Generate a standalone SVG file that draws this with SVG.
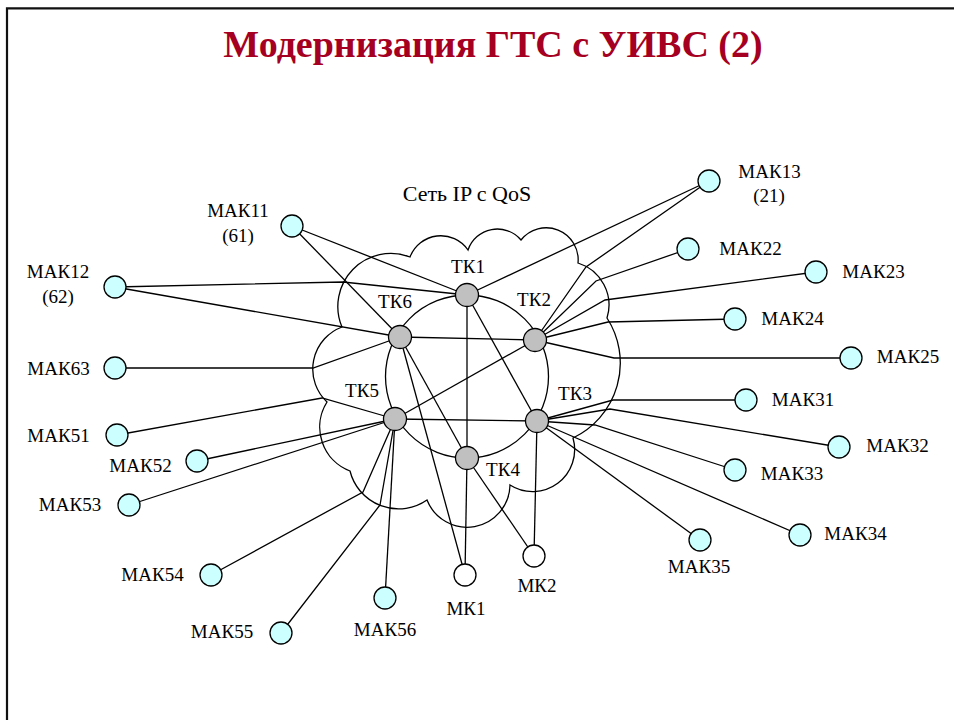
<svg xmlns="http://www.w3.org/2000/svg" width="954" height="720" viewBox="0 0 954 720">
<style>
text{font-family:"Liberation Serif","Times New Roman",serif;font-size:19px;fill:#000;text-anchor:middle}
.title{font-size:38px;font-weight:bold;fill:#a50021}
.net{font-size:22px}
.ln{fill:none;stroke:#000;stroke-width:1.3}
.tk{fill:#c0c0c0;stroke:#000;stroke-width:1.3}
.mak{fill:#ccffff;stroke:#000;stroke-width:1.3}
.mk{fill:#fff;stroke:#000;stroke-width:1.3}
</style>
<rect width="954" height="720" fill="#fff"/>
<path d="M7,720 V8.3 H954" fill="none" stroke="#111" stroke-width="2.2"/>
<text class="title" x="493" y="57">Модернизация ГТС с УИВС (2)</text>
<g id="cloud">
<path class="ln" d="M342,327 A53,53 0 0 1 410,257 A33,33 0 0 1 468,250 A31,31 0 0 1 521,240 A32,32 0 0 1 578,263 A44,44 0 0 1 607,318 A83,83 0 0 1 573,438 A42,42 0 0 1 510,485 A43,43 0 0 1 427,500 A50,50 0 0 1 350,471 A47,47 0 0 1 327,402 A45,45 0 0 1 342,327 Z"/>
<text class="net" x="467" y="201">Сеть IP с QoS</text>
</g>
<g id="connectors" class="ln">
<circle cx="467" cy="376.5" r="81.5"/>
<line x1="400" y1="337" x2="535" y2="340"/>
<line x1="395" y1="419" x2="537" y2="421"/>
<line x1="467" y1="295" x2="467" y2="458"/>
<line x1="467" y1="458" x2="465" y2="575"/>
<line x1="467" y1="295" x2="537" y2="421"/>
<line x1="535" y1="340" x2="395" y2="419"/>
<line x1="400" y1="337" x2="467" y2="458"/>
<line x1="400" y1="337" x2="465" y2="575"/>
<line x1="467" y1="458" x2="534" y2="556"/>
<line x1="537" y1="421" x2="534" y2="556"/>
<line x1="292" y1="226" x2="467" y2="295"/>
<line x1="292" y1="226" x2="400" y2="337"/>
<polyline points="115,287 343,282 467,295"/>
<line x1="115" y1="287" x2="400" y2="337"/>
<polyline points="115,368 313,368 400,337"/>
<line x1="467" y1="295" x2="709" y2="181"/>
<polyline points="535,340 586,267 709,181"/>
<polyline points="535,340 596,281 688,249"/>
<polyline points="535,340 605,300 816,272"/>
<polyline points="535,340 608,322 735,319"/>
<polyline points="535,340 614,358 851,358"/>
<polyline points="537,421 613,400 746,400"/>
<polyline points="537,421 610,409 839,447"/>
<polyline points="537,421 595,425 735,470"/>
<line x1="537" y1="421" x2="800" y2="535"/>
<line x1="537" y1="421" x2="700" y2="540"/>
<polyline points="117,435 322,398 395,419"/>
<line x1="197" y1="461" x2="395" y2="419"/>
<line x1="129" y1="505" x2="395" y2="419"/>
<polyline points="211,575 363,492 395,419"/>
<polyline points="281,633 380,505 395,419"/>
<line x1="385" y1="598" x2="395" y2="419"/>
</g>
<g id="TK1"><circle class="tk" cx="467" cy="295" r="11.5"/><text x="468" y="273">ТК1</text></g>
<g id="TK2"><circle class="tk" cx="535" cy="340" r="11.5"/><text x="534" y="306">ТК2</text></g>
<g id="TK3"><circle class="tk" cx="537" cy="421" r="11.5"/><text x="575" y="400">ТК3</text></g>
<g id="TK4"><circle class="tk" cx="467" cy="458" r="11.5"/><text x="503" y="476">ТК4</text></g>
<g id="TK5"><circle class="tk" cx="395" cy="419" r="11.5"/><text x="362" y="397">ТК5</text></g>
<g id="TK6"><circle class="tk" cx="400" cy="337" r="11.5"/><text x="395" y="308">ТК6</text></g>
<g id="MK1"><circle class="mk" cx="465" cy="575" r="11"/><text x="466" y="615">МК1</text></g>
<g id="MK2"><circle class="mk" cx="534" cy="556" r="11"/><text x="537" y="592">МК2</text></g>
<g id="MAK11"><circle class="mak" cx="292" cy="226" r="11"/><text x="238" y="217">МАК11</text><text x="238" y="242">(61)</text></g>
<g id="MAK12"><circle class="mak" cx="115" cy="287" r="11"/><text x="58" y="278">МАК12</text><text x="58" y="303">(62)</text></g>
<g id="MAK13"><circle class="mak" cx="709" cy="181" r="11"/><text x="769.5" y="178">МАК13</text><text x="769" y="202">(21)</text></g>
<g id="MAK63"><circle class="mak" cx="115" cy="368" r="11"/><text x="58.5" y="375">МАК63</text></g>
<g id="MAK51"><circle class="mak" cx="117" cy="435" r="11"/><text x="58.5" y="442">МАК51</text></g>
<g id="MAK52"><circle class="mak" cx="197" cy="461" r="11"/><text x="140.5" y="472">МАК52</text></g>
<g id="MAK53"><circle class="mak" cx="129" cy="505" r="11"/><text x="70" y="511">МАК53</text></g>
<g id="MAK54"><circle class="mak" cx="211" cy="575" r="11"/><text x="152.5" y="581">МАК54</text></g>
<g id="MAK55"><circle class="mak" cx="281" cy="633" r="11"/><text x="222" y="638">МАК55</text></g>
<g id="MAK56"><circle class="mak" cx="385" cy="598" r="11"/><text x="385" y="636">МАК56</text></g>
<g id="MAK22"><circle class="mak" cx="688" cy="249" r="11"/><text x="750.5" y="255">МАК22</text></g>
<g id="MAK23"><circle class="mak" cx="816" cy="272" r="11"/><text x="873.5" y="278">МАК23</text></g>
<g id="MAK24"><circle class="mak" cx="735" cy="319" r="11"/><text x="792.5" y="325">МАК24</text></g>
<g id="MAK25"><circle class="mak" cx="851" cy="358" r="11"/><text x="908" y="363">МАК25</text></g>
<g id="MAK31"><circle class="mak" cx="746" cy="400" r="11"/><text x="803" y="406">МАК31</text></g>
<g id="MAK32"><circle class="mak" cx="839" cy="447" r="11"/><text x="897.5" y="452">МАК32</text></g>
<g id="MAK33"><circle class="mak" cx="735" cy="470" r="11"/><text x="792" y="480">МАК33</text></g>
<g id="MAK34"><circle class="mak" cx="800" cy="535" r="11"/><text x="855.5" y="540">МАК34</text></g>
<g id="MAK35"><circle class="mak" cx="700" cy="540" r="11"/><text x="699" y="573">МАК35</text></g>
</svg>
